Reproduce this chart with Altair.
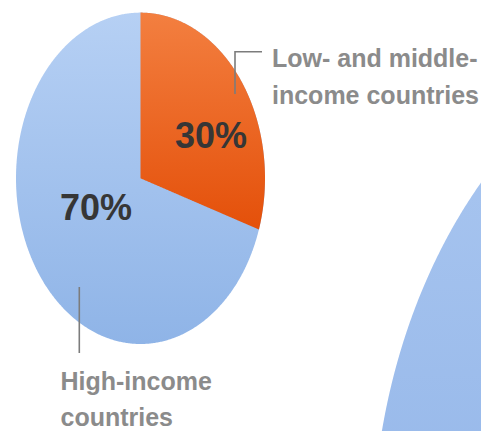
import numpy as np
import pandas as pd
import altair as alt

# ---- data ----
categories = ["Low- and middle-income countries", "High-income countries"]
shares = [30, 70]
pct_labels = ["30%", "70%"]
label_lines_low = ["Low- and middle-", "income countries"]
label_lines_high = ["High-income", "countries"]

# ---- geometry (pixel space of the 481x431 canvas) ----
W, H = 481, 431
CX, CY, RX, RY = 140.5, 178.3, 124.5, 165.7          # elliptical pie
BCX, BCY, BRX, BRY = 772.0, 549.0, 400.0, 534.0      # large neighbouring disc

xs = alt.Scale(domain=[0, W], range=[0, W])
ys = alt.Scale(domain=[0, H], range=[0, H])


def enc_area():
    return dict(
        x=alt.X("x:Q", scale=xs, axis=None),
        y=alt.Y("y:Q", scale=ys, axis=None, stack=None),
        y2="y2:Q",
    )


# whole pie ellipse (high-income part is what stays visible)
t = np.linspace(-np.pi / 2, np.pi / 2, 400)
pie_df = pd.DataFrame({
    "x": CX + RX * np.sin(t),
    "y": CY - RY * np.cos(t),
    "y2": CY + RY * np.cos(t),
})

# first slice (low- and middle-income), clockwise from 12 o'clock
ang_end = 2 * np.pi * shares[0] / sum(shares)
xe = CX + RX * np.sin(ang_end)
ye = CY - RY * np.cos(ang_end)
tt = np.linspace(0, np.pi / 2, 400)
sx = CX + RX * np.sin(tt)
stop = CY - RY * np.cos(tt)
sbot = np.where(
    sx <= xe,
    CY + (sx - CX) / (xe - CX) * (ye - CY),
    CY + RY * np.cos(tt),
)
slice_df = pd.DataFrame({"x": sx, "y": stop, "y2": sbot})

# large disc at lower right
tb = np.linspace(-np.pi / 2, -0.6, 300)
big_df = pd.DataFrame({
    "x": BCX + BRX * np.sin(tb),
    "y": BCY - BRY * np.cos(tb),
    "y2": np.full(len(tb), float(H + 50)),
})

blue_grad = alt.Gradient(
    gradient="linear",
    stops=[alt.GradientStop(color="#b6d0f4", offset=0),
           alt.GradientStop(color="#8fb4e7", offset=1)],
    x1=0, x2=0, y1=0, y2=1,
)
orange_grad = alt.Gradient(
    gradient="linear",
    stops=[alt.GradientStop(color="#f37f40", offset=0),
           alt.GradientStop(color="#e4500a", offset=1)],
    x1=0, x2=0, y1=0, y2=1,
)
big_grad = alt.Gradient(
    gradient="linear",
    stops=[alt.GradientStop(color="#a9c6f0", offset=0),
           alt.GradientStop(color="#95b7e9", offset=1)],
    x1=0, x2=0, y1=0, y2=1,
)

big = alt.Chart(big_df).mark_area(color=big_grad, clip=True).encode(**enc_area())
pie = alt.Chart(pie_df).mark_area(color=blue_grad).encode(**enc_area())
slc = alt.Chart(slice_df).mark_area(color=orange_grad).encode(**enc_area())

# leader lines
lead_df = pd.DataFrame({
    "x": [262, 235, 235, 79.3, 79.3],
    "y": [51.7, 51.7, 94, 287, 353],
    "g": ["low", "low", "low", "high", "high"],
    "i": [0, 1, 2, 0, 1],
})
leaders = alt.Chart(lead_df).mark_line(color="#7c7c7c", strokeWidth=1.6).encode(
    x=alt.X("x:Q", scale=xs, axis=None),
    y=alt.Y("y:Q", scale=ys, axis=None),
    detail="g:N",
    order="i:Q",
)

# category labels
lab_df = pd.DataFrame({
    "text": label_lines_low + label_lines_high,
    "x": [272, 272, 60.5, 60.5],
    "y": [67, 104, 390, 426],
})
labels = alt.Chart(lab_df).mark_text(
    align="left", baseline="alphabetic",
    font="Liberation Sans, Arial, sans-serif",
    fontWeight="bold", fontSize=25, color="#8b8b8b",
).encode(
    x=alt.X("x:Q", scale=xs, axis=None),
    y=alt.Y("y:Q", scale=ys, axis=None),
    text="text:N",
)

# percentage labels
pct_df = pd.DataFrame({"text": pct_labels, "x": [211, 96], "y": [148, 220]})
pcts = alt.Chart(pct_df).mark_text(
    align="center", baseline="alphabetic",
    font="Liberation Sans, Arial, sans-serif",
    fontWeight="bold", fontSize=36, color="#363636",
).encode(
    x=alt.X("x:Q", scale=xs, axis=None),
    y=alt.Y("y:Q", scale=ys, axis=None),
    text="text:N",
)

chart = alt.layer(big, pie, slc, leaders, labels, pcts).properties(
    width=W, height=H, padding=0, autosize=alt.AutoSizeParams(type="none"),
    background="white",
).configure_view(stroke=None)

chart.save("out.html", embed_options={"renderer": "svg", "actions": False})
